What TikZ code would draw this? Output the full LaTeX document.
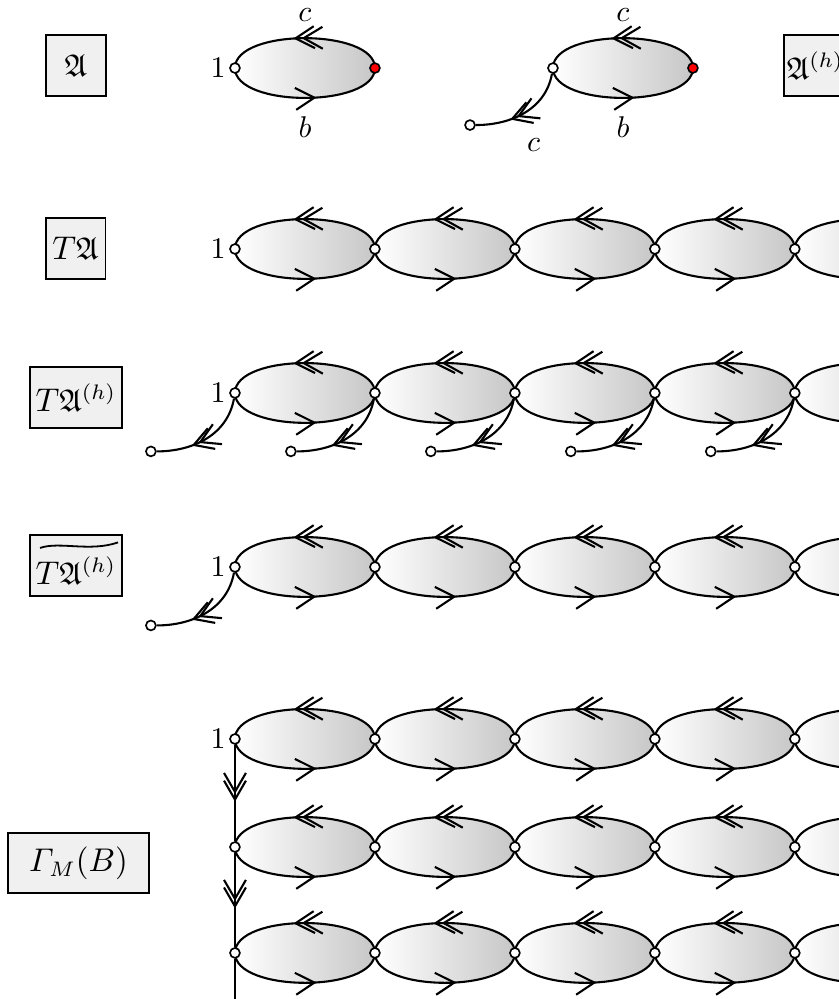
\documentclass[tikz,border=0pt]{standalone}
\usepackage{amsmath,amssymb}
\usetikzlibrary{arrows.meta,decorations.markings,calc}
\pgfdeclarelayer{background}
\pgfsetlayers{background,main}

\tikzset{
  vtx/.style={circle, draw, fill=white, inner sep=0pt, minimum size=3.3pt, line width=0.55pt},
  root/.style={vtx, fill=red},
  lbox/.style={draw, semithick, fill=black!6, minimum width=0.7cm, minimum height=0.715cm, inner sep=2pt, font=\fontsize{10.5}{12}\selectfont},
  one/.style={inner sep=0pt, anchor=east},
  barb/.tip={Straight Barb[length=6.3pt,width=7.3pt]},
  lens/.style={left color=white, right color=black!22},
  uparc/.style={line width=0.7pt, postaction={decorate}, decoration={markings,
      mark=at position 0.52 with {\arrow{barb}},
      mark=at position 0.57 with {\arrow{barb}}}},
  lowarc/.style={line width=0.7pt, postaction={decorate}, decoration={markings,
      mark=at position 0.57 with {\arrow{barb}}}},
  tail/.style={line width=0.7pt, postaction={decorate}, decoration={markings,
      mark=at position 0.58 with {\arrow{barb}},
      mark=at position 0.65 with {\arrow{barb}}}},
  vchain/.style={line width=0.7pt, postaction={decorate}, decoration={markings,
      mark=at position 0.51 with {\arrow{barb}},
      mark=at position 0.59 with {\arrow{barb}}}},
}

\begin{document}
\begin{tikzpicture}
\useasboundingbox (0,0) rectangle (9.83,-11.705);
\clip (0,0) rectangle (9.83,-11.705);

% Boxes on the left
\node[lbox] (bA) at (0.89,-0.767) {$\mathfrak{A}$};
\node[lbox, anchor=west, inner xsep=1pt] (bAh) at (9.174,-0.767) {$\mathfrak{A}^{(h)}$};
\node[lbox] (bT) at (0.885,-2.912) {$T\mathfrak{A}$};
\node[lbox, minimum width=1.055cm] (bTh) at (0.89,-4.657) {$T\mathfrak{A}^{(h)}$};
\node[lbox, minimum width=1.055cm, text height=14.6pt, text depth=1.7pt] (bTt) at (0.89,-6.626) {$T\mathfrak{A}^{(h)}$};
% wide tilde over the box text
\draw[line width=0.6pt] (0.469,-6.42) .. controls (0.70,-6.34) and (1.05,-6.47) .. (1.383,-6.355);
\node[lbox, minimum width=1.652cm, minimum height=0.703cm] (bG) at (0.92,-10.115) {$\varGamma_M(B)$};

% First row: the two pieces
\node[vtx] (u0) at (2.753,-0.797) {};
\node[root] (u1) at (4.393,-0.797) {};
\node[vtx] (w0) at (6.479,-0.797) {};
\node[root] (w1) at (8.119,-0.797) {};
\node[vtx] (we) at (5.507,-1.465) {};
\node (cu) at (3.573,-0.176) {$c$};
\node (bu) at (3.573,-1.483) {$b$};
\node (cw) at (7.299,-0.176) {$c$};
\node (bw) at (7.299,-1.483) {$b$};
\node (ct) at (6.251,-1.699) {$c$};
\draw[tail] (w0) to[out=-100,in=0] (we);

% Chains of vertices
\foreach \row/\y in {t/-2.917, h/-4.604, s/-6.643, ga/-8.658, gb/-9.924, gc/-11.165}
  \foreach \i in {0,...,5}
    \node[vtx] (\row\i) at ({2.753+1.64*\i},\y) {};

% Labels 1
\foreach \row in {u,t,h,s,ga}
  \node[one] (\row one) at ([xshift=-1pt]\row0.west) {$1$};

% Tails
\foreach \i in {0,...,4} {
  \node[vtx] (h\i e) at ($(h\i)+(-0.985,-0.685)$) {};
  \draw[tail] (h\i) to[out=-100,in=0] (h\i e);
}
\node[vtx] (s0e) at ($(s0)+(-0.985,-0.685)$) {};
\draw[tail] (s0) to[out=-100,in=0] (s0e);

% Vertical line
\coordinate (bot) at (2.753,-11.9);
\draw[vchain] (ga0) -- (gb0);
\draw[vchain] (gb0) -- (gc0);
\draw[line width=0.7pt] (gc0) -- (bot);

% Ellipses
\begin{pgfonlayer}{background}
\clip (0,0) rectangle (9.83,-11.705);
\foreach \p/\q in {u0/u1, w0/w1} {
  \shade[lens] (\p.center) to[out=90,in=90,looseness=.73] (\q.center)
    to[out=-90,in=-90,looseness=.73] (\p.center);
  \draw[uparc] (\q.center) to[out=90,in=90,looseness=.73] (\p.center);
  \draw[lowarc] (\p.center) to[out=-90,in=-90,looseness=.73] (\q.center);
}
\foreach \row in {t,h,s,ga,gb,gc} {
  \foreach \i [evaluate=\i as \j using int(\i+1)] in {0,...,4} {
    \shade[lens] (\row\i.center) to[out=90,in=90,looseness=.73] (\row\j.center)
      to[out=-90,in=-90,looseness=.73] (\row\i.center);
    \draw[uparc] (\row\j.center) to[out=90,in=90,looseness=.73] (\row\i.center);
    \draw[lowarc] (\row\i.center) to[out=-90,in=-90,looseness=.73] (\row\j.center);
  }
}
\end{pgfonlayer}

\end{tikzpicture}
\end{document}
